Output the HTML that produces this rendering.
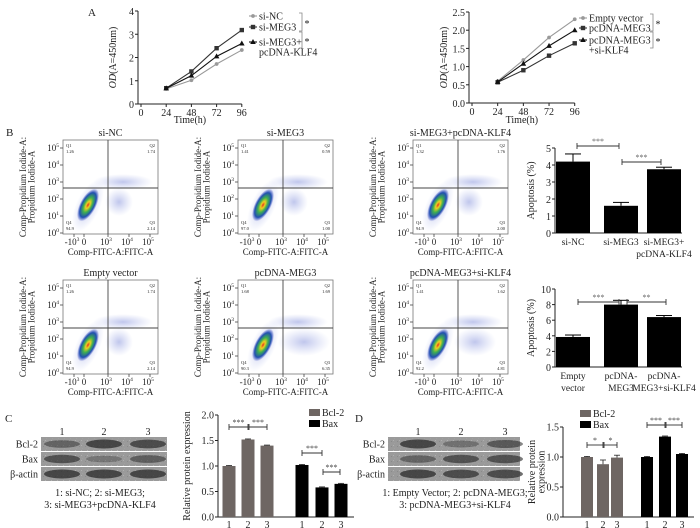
<!DOCTYPE html>
<html><head><meta charset="utf-8">
<style>
html,body{margin:0;padding:0;background:#fff;}
svg{display:block;font-family:"Liberation Serif",serif;}
</style></head>
<body>
<svg id="fig" width="700" height="528" viewBox="0 0 700 528" xmlns="http://www.w3.org/2000/svg">
<defs>
<radialGradient id="blob" cx="50%" cy="50%" r="50%">
<stop offset="0" stop-color="#e03020"/>
<stop offset="0.2" stop-color="#f0d020"/>
<stop offset="0.45" stop-color="#40b050"/>
<stop offset="0.75" stop-color="#2050b0"/>
<stop offset="1" stop-color="#3040c0" stop-opacity="0"/>
</radialGradient>
<radialGradient id="haze" cx="50%" cy="50%" r="50%">
<stop offset="0" stop-color="#6070d0" stop-opacity="0.4"/>
<stop offset="1" stop-color="#8090e0" stop-opacity="0"/>
</radialGradient>
<pattern id="noise" width="6" height="5" patternUnits="userSpaceOnUse">
<rect x="1" y="1" width="1" height="1" fill="#8a8a8a"/><rect x="4" y="3" width="1" height="1" fill="#a0a0a0"/>
<rect x="3" y="0" width="1" height="1" fill="#b0b0b0"/>
</pattern>
</defs>
<g id="root"></g>
</svg>
<script>
// ---- Panel A data ----
const timePts = [24, 48, 72, 96];
const siNC = [0.65, 1.02, 1.72, 2.32];
const siMEG3 = [0.68, 1.40, 2.40, 3.18];
const siMEG3KLF4 = [0.67, 1.22, 2.05, 2.60];
const emptyVec = [0.60, 1.18, 1.80, 2.30];
const pcMEG3 = [0.57, 0.90, 1.30, 1.64];
const pcMEG3siKLF4 = [0.58, 1.08, 1.57, 2.00];
const leftYTicks = [0, 1, 2, 3, 4];
const rightYTicks = ["0.0", "0.5", "1.0", "1.5", "2.0", "2.5"];
const xTicks = [0, 24, 48, 72, 96];
// ---- Panel B apoptosis ----
const apoCats1 = ["si-NC", "si-MEG3", "si-MEG3+"];
const apoVals1 = [4.2, 1.6, 3.75];
const apoErr1 = [0.45, 0.2, 0.12];
const apoCats2 = ["Empty", "pcDNA-", "pcDNA-"];
const apoVals2 = [3.85, 8.0, 6.4];
const apoErr2 = [0.25, 0.55, 0.2];
const flowTitles = ["si-NC", "si-MEG3", "si-MEG3+pcDNA-KLF4", "Empty vector", "pcDNA-MEG3", "pcDNA-MEG3+si-KLF4"];
const flowQ1 = ["1.26", "1.41", "1.32", "1.26", "1.68", "1.41"];
const flowQ2 = ["1.74", "0.59", "1.76", "1.74", "1.69", "1.62"];
const flowQ3 = ["2.14", "1.00", "2.00", "2.14", "6.35", "4.81"];
const flowQ4 = ["94.9", "97.0", "94.9", "94.9", "90.3", "92.2"];
// ---- Panel C / D western quant ----
const cBcl2 = [1.0, 1.52, 1.40];
const cBax = [1.02, 0.58, 0.65];
const dBcl2 = [1.0, 0.88, 0.99];
const dBcl2Err = [0.01, 0.07, 0.04];
const dBax = [1.0, 1.34, 1.05];

const NS = "http://www.w3.org/2000/svg";
const root = document.getElementById("root");
function el(tag, attrs, parent, text) {
  const e = document.createElementNS(NS, tag);
  for (const k in attrs) e.setAttribute(k, attrs[k]);
  if (text !== undefined) e.textContent = text;
  (parent || root).appendChild(e);
  return e;
}
function txt(x, y, s, size, anchor, parent, extra) {
  const a = {x: x, y: y, "font-size": size, "text-anchor": anchor || "middle", fill: "#222"};
  if (extra) for (const k in extra) a[k] = extra[k];
  return el("text", a, parent, s);
}
function line(x1, y1, x2, y2, parent, stroke, w) {
  return el("line", {x1: x1, y1: y1, x2: x2, y2: y2, stroke: stroke || "#222", "stroke-width": w || 1}, parent);
}
function marker(kind, x, y, color, parent) {
  if (kind === "sq") return el("rect", {x: x - 2.2, y: y - 2.2, width: 4.4, height: 4.4, fill: color}, parent);
  if (kind === "tri") return el("path", {d: `M${x},${y - 3}L${x + 2.8},${y + 2}L${x - 2.8},${y + 2}Z`, fill: color}, parent);
  return el("circle", {cx: x, cy: y, r: 1.9, fill: color}, parent);
}

// ---------- Panel A ----------
let t = txt(92, 16, "A", 11, "middle");



function lineChart(ox, xr, y0, y1, ymax, ticks, series, legendX, legendRows, brackets, name) {
  const g = el("g", {});
  
  
  const xs = v => ox + 3 + v * xr;
  const ys = v => y0 - (v / ymax) * (y0 - y1);
  line(ox, y1, ox, y0, g);
  line(ox, y0, xs(96), y0, g);
  ticks.forEach(tk => {
    const v = parseFloat(tk);
    line(ox - 3, ys(v), ox, ys(v), g);
    txt(ox - 4, ys(v) + 4, tk, 10, "end", g);
  });
  xTicks.forEach(v => {
    line(xs(v), y0, xs(v), y0 + 3, g);
    txt(xs(v), y0 + 12, String(v), 10, "middle", g);
  });
  const xl = txt((ox + xs(96)) / 2, 123, "Time(h)", 10, "middle", g);
  
  
  const yl = el("text", {x: 0, y: 0, "font-size": 10, "text-anchor": "middle", fill: "#222", transform: `translate(${ox - 22},${(y0 + y1) / 2}) rotate(-90)`}, g);
  el("tspan", {"font-style": "italic"}, yl, "OD");
  el("tspan", {}, yl, "(A=450nm)");
  
  
  series.forEach(s => {
    const sg = el("g", {}, g);
    
    
    const pts = s.vals.map((v, i) => `${xs(timePts[i])},${ys(v)}`).join(" ");
    el("polyline", {points: pts, fill: "none", stroke: s.color, "stroke-width": 1.1}, sg);
    s.vals.forEach((v, i) => {
      const m = marker(s.kind, xs(timePts[i]), ys(v), s.color, sg);
      
      
    });
  });
  legendRows.forEach((r, i) => {
    const lg = el("g", {}, g);
    
    
    line(legendX - 4, r.y, legendX + 4, r.y, lg, series[i].color, 1.1);
    marker(series[i].kind, legendX, r.y, series[i].color, lg);
    r.lines.forEach((s, j) => txt(legendX + 6, r.y + 3.5 + j * 10, s, 10, "start", lg));
  });
  brackets.forEach(b => {
    const bg = el("g", {}, g);
    
    
    el("path", {d: `M${b.x - 3},${b.y1}H${b.x}V${b.y2}H${b.x - 3}`, fill: "none", stroke: "#888", "stroke-width": 0.8}, bg);
    txt(b.x + 5, (b.y1 + b.y2) / 2 + 5, "*", 10, "middle", bg);
  });
}
lineChart(138, 1.05, 104, 11, 4, leftYTicks.map(String), [
  {key: "si-nc", vals: siNC, color: "#999", kind: "dot"},
  {key: "si-meg3", vals: siMEG3, color: "#333", kind: "sq"},
  {key: "si-meg3-klf4", vals: siMEG3KLF4, color: "#111", kind: "tri"}
], 253, [{y: 16, lines: ["si-NC"]}, {y: 27, lines: ["si-MEG3"]}, {y: 42, lines: ["si-MEG3+", "pcDNA-KLF4"]}],
[{x: 302, y1: 13, y2: 31}, {x: 302, y1: 32, y2: 48}], "growth-chart-si");
lineChart(469, 1.07, 103, 12, 2.5, rightYTicks, [
  {key: "empty-vector", vals: emptyVec, color: "#999", kind: "dot"},
  {key: "pcdna-meg3", vals: pcMEG3, color: "#333", kind: "sq"},
  {key: "pcdna-meg3-siklf4", vals: pcMEG3siKLF4, color: "#111", kind: "tri"}
], 583, [{y: 18, lines: ["Empty vector"]}, {y: 28, lines: ["pcDNA-MEG3"]}, {y: 40, lines: ["pcDNA-MEG3", "+si-KLF4"]}],
[{x: 653, y1: 14, y2: 31}, {x: 653, y1: 32, y2: 48}], "growth-chart-pcdna");

// ---------- Panel B flow plots ----------
t = txt(6, 136, "B", 11, "start");


const flowX = [63, 238, 413];
const flowY = [140, 280];
const spread = [0, 0, 0, 0, 1, 0.6];
flowTitles.forEach((title, i) => {
  const bx = flowX[i % 3], by = flowY[Math.floor(i / 3)], w = 95, h = 94;
  const g = el("g", {});
  
  
  txt(bx + w / 2, by - 4, title, 10, "middle", g);
  el("rect", {x: bx, y: by, width: w, height: h, fill: "#fff", stroke: "#777", "stroke-width": 0.8}, g);
  el("ellipse", {cx: bx + 60, cy: by + 42, rx: 30, ry: 8, fill: "url(#haze)"}, g);
  el("ellipse", {cx: bx + 56 + spread[i] * 10, cy: by + 62, rx: 14 + spread[i] * 12, ry: 14, fill: "url(#haze)"}, g);
  el("ellipse", {cx: bx + 25, cy: by + 66, rx: 12, ry: 28, fill: "url(#haze)", transform: `rotate(25 ${bx + 25} ${by + 66})`}, g);
  el("ellipse", {cx: bx + 25, cy: by + 65, rx: 8, ry: 18, fill: "url(#blob)", transform: `rotate(28 ${bx + 25} ${by + 65})`}, g);
  const qx = bx + 45, qy = by + 48;
  line(qx, by, qx, by + h, g, "#444", 0.9);
  line(bx, qy, bx + w, qy, g, "#444", 0.9);
  const fs = 4.5;
  txt(bx + 3, by + 7, "Q1", fs, "start", g); txt(bx + 3, by + 13, flowQ1[i], fs, "start", g);
  txt(bx + w - 3, by + 7, "Q2", fs, "end", g); txt(bx + w - 3, by + 13, flowQ2[i], fs, "end", g);
  txt(bx + 3, by + h - 10, "Q4", fs, "start", g); txt(bx + 3, by + h - 4, flowQ4[i], fs, "start", g);
  txt(bx + w - 3, by + h - 10, "Q3", fs, "end", g); txt(bx + w - 3, by + h - 4, flowQ3[i], fs, "end", g);
  for (let k = 0; k <= 5; k++) {
    const yy = by + h - 1 - k * 17;
    line(bx - 3, yy, bx, yy, g, "#444", 0.8);
    const tt = txt(bx - 4, yy + 3, "10", 9, "end", g);
    el("tspan", {dy: -4, "font-size": 5.5}, tt, String(k));
  }
  const xlab = [["-10", "3"], ["0", ""], ["10", "3"], ["10", "4"], ["10", "5"]];
  const xpos = [11, 21, 45, 66, 87];
  xlab.forEach((lb, k) => {
    line(bx + xpos[k], by + h, bx + xpos[k], by + h + 3, g, "#444", 0.8);
    const tt = txt(bx + xpos[k] - (lb[1] ? 2 : 0), by + h + 11, lb[0], 9, "middle", g);
    if (lb[1]) el("tspan", {dy: -4, "font-size": 5.5}, tt, lb[1]);
  });
  txt(bx + w / 2, by + h + 21, "Comp-FITC-A:FITC-A", 9, "middle", g);
  const yl = el("text", {"font-size": 9, "text-anchor": "middle", fill: "#222", transform: `translate(${bx - 37},${by + h / 2}) rotate(-90)`}, g);
  el("tspan", {x: 0, y: 0}, yl, "Comp-Propidium Iodide-A:");
  el("tspan", {x: 0, y: 8.5}, yl, "Propidium Iodide-A");
});

// ---------- Apoptosis bar charts ----------
function apoChart(y0, y1, ymax, step, cats, vals, errs, sub, brackets, name) {
  const g = el("g", {});
  
  
  const ox = 555, centers = [573, 621, 664], bw = 34;
  const ys = v => y0 - v / ymax * (y0 - y1);
  line(ox, y1, ox, y0, g);
  line(ox, y0, 682, y0, g);
  for (let v = 0; v <= ymax; v += step) {
    line(ox - 3, ys(v), ox, ys(v), g);
    txt(ox - 4, ys(v) + 4, String(v), 10, "end", g);
  }
  vals.forEach((v, i) => {
    const b = el("rect", {x: centers[i] - bw / 2, y: ys(v), width: bw, height: y0 - ys(v), fill: "#000"}, g);
    
    
    const ye = ys(v + errs[i]);
    line(centers[i], ys(v), centers[i], ye, g, "#000", 1);
    line(centers[i] - 8, ye, centers[i] + 8, ye, g, "#000", 1);
    txt(centers[i], y0 + 12, cats[i], 9.5, "middle", g);
  });
  sub.forEach(s => txt(s.x, y0 + 24, s.t, 9.5, "middle", g));
  brackets.forEach(b => {
    const bg = el("g", {}, g);
    
    
    line(b.a, b.y, b.b, b.y, bg, "#333", 0.9);
    line(b.a, b.y - 3, b.a, b.y + 3, bg, "#333", 0.9);
    line(b.b, b.y - 3, b.b, b.y + 3, bg, "#333", 0.9);
    txt((b.a + b.b) / 2, b.y - 2, b.s, 8, "middle", bg, {fill: "#666"});
  });
  const yl = txt(0, 0, "Apoptosis (%)", 10, "middle", g, {transform: `translate(534,${(y0 + y1) / 2}) rotate(-90)`});
  
  
}
apoChart(233, 148, 5, 1, apoCats1, apoVals1, apoErr1, [{x: 664, t: "pcDNA-KLF4"}],
  [{a: 577, b: 619, y: 146, s: "***"}, {a: 622, b: 661, y: 162, s: "***"}], "apoptosis-chart-si");
apoChart(367, 289, 10, 2, apoCats2, apoVals2, apoErr2, [{x: 573, t: "vector"}, {x: 621, t: "MEG3"}, {x: 664, t: "MEG3+si-KLF4"}],
  [{a: 578, b: 619, y: 302, s: "***"}, {a: 627, b: 666, y: 302, s: "**"}], "apoptosis-chart-pcdna");

// ---------- Western blots ----------
function blot(label, bx, bw, lanes, intens, caption, cx, name) {
  const g = el("g", {});
  
  
  txt(label === "C" ? 5 : 355, 422, label, 11, "start", g);
  lanes.forEach((lx, i) => txt(lx, 435, String(i + 1), 10, "middle", g));
  const rows = ["Bcl-2", "Bax", "\u03b2-actin"], ry = [437, 452, 467];
  rows.forEach((r, j) => {
    txt(bx - 3, ry[j] + 10.5, r, 10, "end", g);
    el("rect", {x: bx, y: ry[j], width: bw, height: 14, fill: "#9a9a9a"}, g);
    el("rect", {x: bx, y: ry[j], width: bw, height: 14, fill: "url(#noise)"}, g);
    lanes.forEach((lx, i) => {
      const a = intens[j][i];
      el("ellipse", {cx: lx, cy: ry[j] + 7, rx: 18, ry: 3 + a * 1.5, fill: "#222", opacity: 0.2 + a * 0.5}, g);
    });
  });
  txt(cx, 496, caption[0], 10, "middle", g);
  txt(cx, 508, caption[1], 10, "middle", g);
}
blot("C", 41, 126, [62, 104, 148], [[0.5, 1, 0.9], [0.8, 0.2, 0.6], [1, 1, 1]],
  ["1: si-NC; 2: si-MEG3;", "3: si-MEG3+pcDNA-KLF4"], 100, "western-blot-c");
blot("D", 388, 132, [418, 461, 505], [[1, 0.3, 0.7], [0.5, 0.8, 0.8], [1, 0.9, 0.9]],
  ["1: Empty Vector; 2: pcDNA-MEG3;", "3: pcDNA-MEG3+si-KLF4"], 455, "western-blot-d");

function quantChart(ox, y0, y1, ymax, ticks, c1, c2, bcl, bax, bclErr, bw, legX, legY, ylabX, ylabLines, brackets, name) {
  const g = el("g", {});
  
  
  const ys = v => y0 - v / ymax * (y0 - y1);
  const xEnd = c2[2] + bw;
  line(ox, y1, ox, y0, g);
  line(ox, y0, xEnd, y0, g);
  ticks.forEach(tk => {
    const v = parseFloat(tk);
    line(ox - 3, ys(v), ox, ys(v), g);
    txt(ox - 4, ys(v) + 3.5, tk, 10, "end", g);
  });
  const draw = (cs, vals, col, key, errs) => vals.forEach((v, i) => {
    const b = el("rect", {x: cs[i] - bw / 2, y: ys(v), width: bw, height: y0 - ys(v), fill: col}, g);
    
    
    const e = errs ? errs[i] : 0.01;
    line(cs[i] - 3, ys(v + e), cs[i] + 3, ys(v + e), g, "#222", 0.8);
    line(cs[i], ys(v), cs[i], ys(v + e), g, "#222", 0.8);
    txt(cs[i], y0 + 11, String(i + 1), 10, "middle", g);
  });
  draw(c1, bcl, "#6e6663", "bcl2", bclErr);
  draw(c2, bax, "#000", "bax", null);
  [["Bcl-2", "#6e6663"], ["Bax", "#000"]].forEach((l, i) => {
    const lg = el("g", {}, g);
    
    
    el("rect", {x: legX, y: legY + i * 11 - 4, width: 11, height: 7, fill: l[1]}, lg);
    txt(legX + 13, legY + i * 11 + 3, l[0], 10, "start", lg);
  });
  brackets.forEach(b => {
    const bg = el("g", {}, g);
    
    
    line(b.a, b.y, b.b, b.y, bg, "#333", 0.9);
    line(b.a, b.y - 3, b.a, b.y + 3, bg, "#333", 0.9);
    line(b.b, b.y - 3, b.b, b.y + 3, bg, "#333", 0.9);
    txt((b.a + b.b) / 2, b.y - 2, b.s, 8, "middle", bg, {fill: "#444"});
  });
  const yl = el("text", {"font-size": 10, "text-anchor": "middle", fill: "#222", transform: `translate(${ylabX},${(y0 + y1) / 2}) rotate(-90)`}, g);
  ylabLines.forEach((s, i) => el("tspan", {x: 0, y: i * 9.5}, yl, s));
  
  
}
quantChart(218, 517, 415, 2.0, ["0.0", "0.5", "1.0", "1.5", "2.0"], [229, 248, 267], [302, 322, 341], cBcl2, cBax, null, 13,
  309, 413, 190, ["Relative protein expression"],
  [{a: 229, b: 248, y: 427, s: "***"}, {a: 249, b: 267, y: 427, s: "***"}, {a: 302, b: 322, y: 453, s: "***"}, {a: 323, b: 340, y: 472, s: "***"}],
  "protein-quant-chart-c");
quantChart(563, 517, 427, 1.5, ["0.0", "0.5", "1.0", "1.5"], [587, 603, 617], [647, 665, 682], dBcl2, dBax, dBcl2Err, 12,
  580, 414, 535, ["Relative protein", "expression"],
  [{a: 587, b: 603, y: 445, s: "*"}, {a: 604, b: 617, y: 445, s: "*"}, {a: 647, b: 665, y: 425, s: "***"}, {a: 666, b: 682, y: 425, s: "***"}],
  "protein-quant-chart-d");
</script>
</body></html>
